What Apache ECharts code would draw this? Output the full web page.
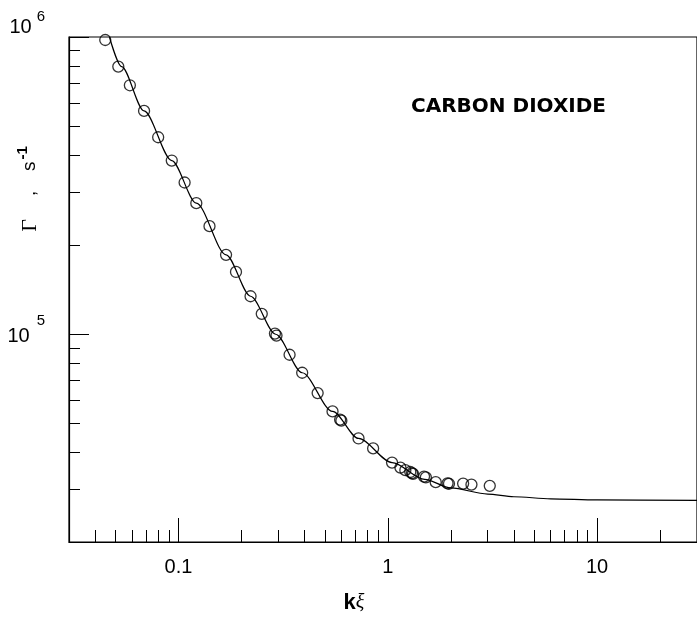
<!DOCTYPE html>
<html><head><meta charset="utf-8">
<script src="https://cdn.jsdelivr.net/npm/echarts@6/dist/echarts.min.js"></script>
<style>html,body{margin:0;padding:0;background:#fff}#c{width:697px;height:623px}</style>
</head><body><div id="c"></div>
<script>
// measured data (k*xi, Gamma in s^-1)
const kxi = [0.0447,0.0516,0.0586,0.0685,0.080,0.0929,0.107,0.1217,0.1407,0.1688,0.1883,0.221,0.250,0.289,0.294,0.3395,0.390,0.4623,0.5445,0.592,0.600,0.7248,0.851,1.048,1.149,1.213,1.281,1.305,1.320,1.49,1.52,1.694,1.93,1.96,2.29,2.51,3.07];
const gamma = [9.77e5,7.95e5,6.88e5,5.64e5,4.60e5,3.84e5,3.24e5,2.76e5,2.31e5,1.85e5,1.62e5,1.342e5,1.171e5,1.005e5,0.99e5,8.53e4,7.42e4,6.34e4,5.50e4,5.16e4,5.12e4,4.46e4,4.13e4,3.70e4,3.56e4,3.49e4,3.44e4,3.41e4,3.39e4,3.32e4,3.30e4,3.18e4,3.15e4,3.14e4,3.145e4,3.12e4,3.09e4];
// theoretical curve
const curveX = [0.0468,0.0535,0.0685,0.0929,0.1217,0.1688,0.221,0.2913,0.39,0.5445,0.7248,1.048,1.5,2.0,3.0,4.0,6.0,10,30];
const curveY = [1.0e6,7.95e5,5.64e5,3.84e5,2.76e5,1.85e5,1.342e5,1.0e5,7.42e4,5.50e4,4.46e4,3.70e4,3.25e4,3.04e4,2.90e4,2.84e4,2.795e4,2.77e4,2.76e4];
// axes
const xMajor = [0.1, 1, 10];
const xMajorLabels = ['0.1', '1', '10'];
const xMinor = [0.04,0.05,0.06,0.07,0.08,0.09,0.2,0.3,0.4,0.5,0.6,0.7,0.8,0.9,2,3,4,5,6,7,8,9,20];
const yMajor = [1e5, 1e6];
const yMajorExp = ['5', '6'];
const yMinor = [3e4,4e4,5e4,6e4,7e4,8e4,9e4,2e5,3e5,4e5,5e5,6e5,7e5,8e5,9e5];
const xMin = 0.03, xMax = 30, yMin = 2e4, yMax = 1e6;
const title = 'CARBON DIOXIDE';

const FONT = 'Liberation Sans';
function matchIdx(v, arr) { return arr.findIndex(t => Math.abs(v / t - 1) < 1e-6); }

const chart = echarts.init(document.getElementById('c'));
chart.setOption({
  animation: false,
  backgroundColor: '#fff',
  grid: { left: 69, top: 37, right: -4, bottom: 81, show: true, borderColor: '#000', borderWidth: 1.2, backgroundColor: 'transparent' },
  xAxis: [
    {
      type: 'log', logBase: 10, min: xMin, max: xMax, position: 'bottom',
      axisLine: { show: true, onZero: false, lineStyle: { color: '#000', width: 1.2 } },
      axisTick: { show: true, inside: true, length: 24, lineStyle: { color: '#000', width: 1 } },
      axisLabel: {
        color: '#000', fontSize: 20, fontFamily: FONT, margin: 15, showMinLabel: false, showMaxLabel: false,
        formatter: v => { const i = matchIdx(v, xMajor); return i >= 0 ? xMajorLabels[i] : ''; }
      },
      splitLine: { show: false }, minorTick: { show: false },
      name: '{k|k}{xi|ξ}', nameLocation: 'middle', nameGap: 50,
      nameTextStyle: { padding: [0, 58, 0, 0], rich: {
        k: { fontSize: 22, fontWeight: 'bold', fontFamily: FONT, color: '#000' },
        xi: { fontSize: 20, fontStyle: 'italic', fontFamily: 'Liberation Serif', color: '#000' } } }
    },
    {
      type: 'value', min: Math.log10(xMin), max: Math.log10(xMax), position: 'bottom',
      axisLine: { show: false, onZero: false },
      axisTick: { show: true, inside: true, length: 12, customValues: xMinor.map(v => Math.log10(v)), lineStyle: { color: '#000', width: 1 } },
      axisLabel: { show: false }, splitLine: { show: false }
    }
  ],
  yAxis: [
    {
      type: 'log', logBase: 10, min: yMin, max: yMax, position: 'left',
      axisLine: { show: true, onZero: false, lineStyle: { color: '#000', width: 1.2 } },
      axisTick: { show: true, inside: true, length: 20, lineStyle: { color: '#000', width: 1 } },
      axisLabel: {
        color: '#000', margin: 24,
        formatter: v => {
          const i = matchIdx(v, yMajor);
          if (i < 0) return '';
          return i === yMajor.length - 1 ? '{bt|10}{st|' + yMajorExp[i] + '}' : '{b|10}{s|' + yMajorExp[i] + '}';
        },
        rich: {
          b: { fontSize: 20, fontFamily: FONT, color: '#000', padding: [4, 0, 0, 0] },
          s: { fontSize: 15, fontFamily: FONT, color: '#000', padding: [0, 0, 26, 7] },
          bt: { fontSize: 20, fontFamily: FONT, color: '#000', padding: [0, 0, 19, 0] },
          st: { fontSize: 15, fontFamily: FONT, color: '#000', padding: [0, 0, 40, 5] }
        }
      },
      splitLine: { show: false }, minorTick: { show: false }
    },
    {
      type: 'value', min: Math.log10(yMin), max: Math.log10(yMax), position: 'left',
      axisLine: { show: false, onZero: false },
      axisTick: { show: true, inside: true, length: 11, customValues: yMinor.map(v => Math.log10(v)), lineStyle: { color: '#000', width: 1 } },
      axisLabel: { show: false }, splitLine: { show: false }
    }
  ],
  graphic: [
    {
      type: 'text', x: 30, y: 189, rotation: Math.PI / 2,
      style: {
        text: '{g|Γ}{c|,}{s|s}{e|-1}', align: 'center', verticalAlign: 'middle',
        rich: {
          g: { fontSize: 22, fontFamily: 'Liberation Serif', fill: '#000', color: '#000' },
          c: { fontSize: 18, fontFamily: FONT, fill: '#000', color: '#000', padding: [0, 20, 0, 23] },
          s: { fontSize: 19, fontFamily: FONT, fill: '#000', color: '#000' },
          e: { fontSize: 15, fontFamily: FONT, fontWeight: 'bold', fill: '#000', color: '#000', padding: [0, 0, 14, 2] }
        }
      }
    },
    {
      type: 'text', x: 606, y: 107,
      style: { text: title, align: 'right', verticalAlign: 'middle', font: 'bold 20px "DejaVu Sans"', fill: '#000' }
    }
  ],
  series: [
    {
      type: 'line', xAxisIndex: 0, yAxisIndex: 0, showSymbol: false, smooth: 0.3, smoothMonotone: 'x',
      data: curveX.map((x, i) => [x, curveY[i]]),
      lineStyle: { color: '#000', width: 1.2 }, z: 2, silent: true
    },
    {
      type: 'scatter', xAxisIndex: 0, yAxisIndex: 0, symbol: 'circle', symbolSize: 11,
      data: kxi.map((x, i) => [x, gamma[i]]),
      itemStyle: { color: 'rgba(255,255,255,0)', borderColor: '#000', borderWidth: 1.3 }, z: 3
    }
  ]
});
</script>
</body></html>
